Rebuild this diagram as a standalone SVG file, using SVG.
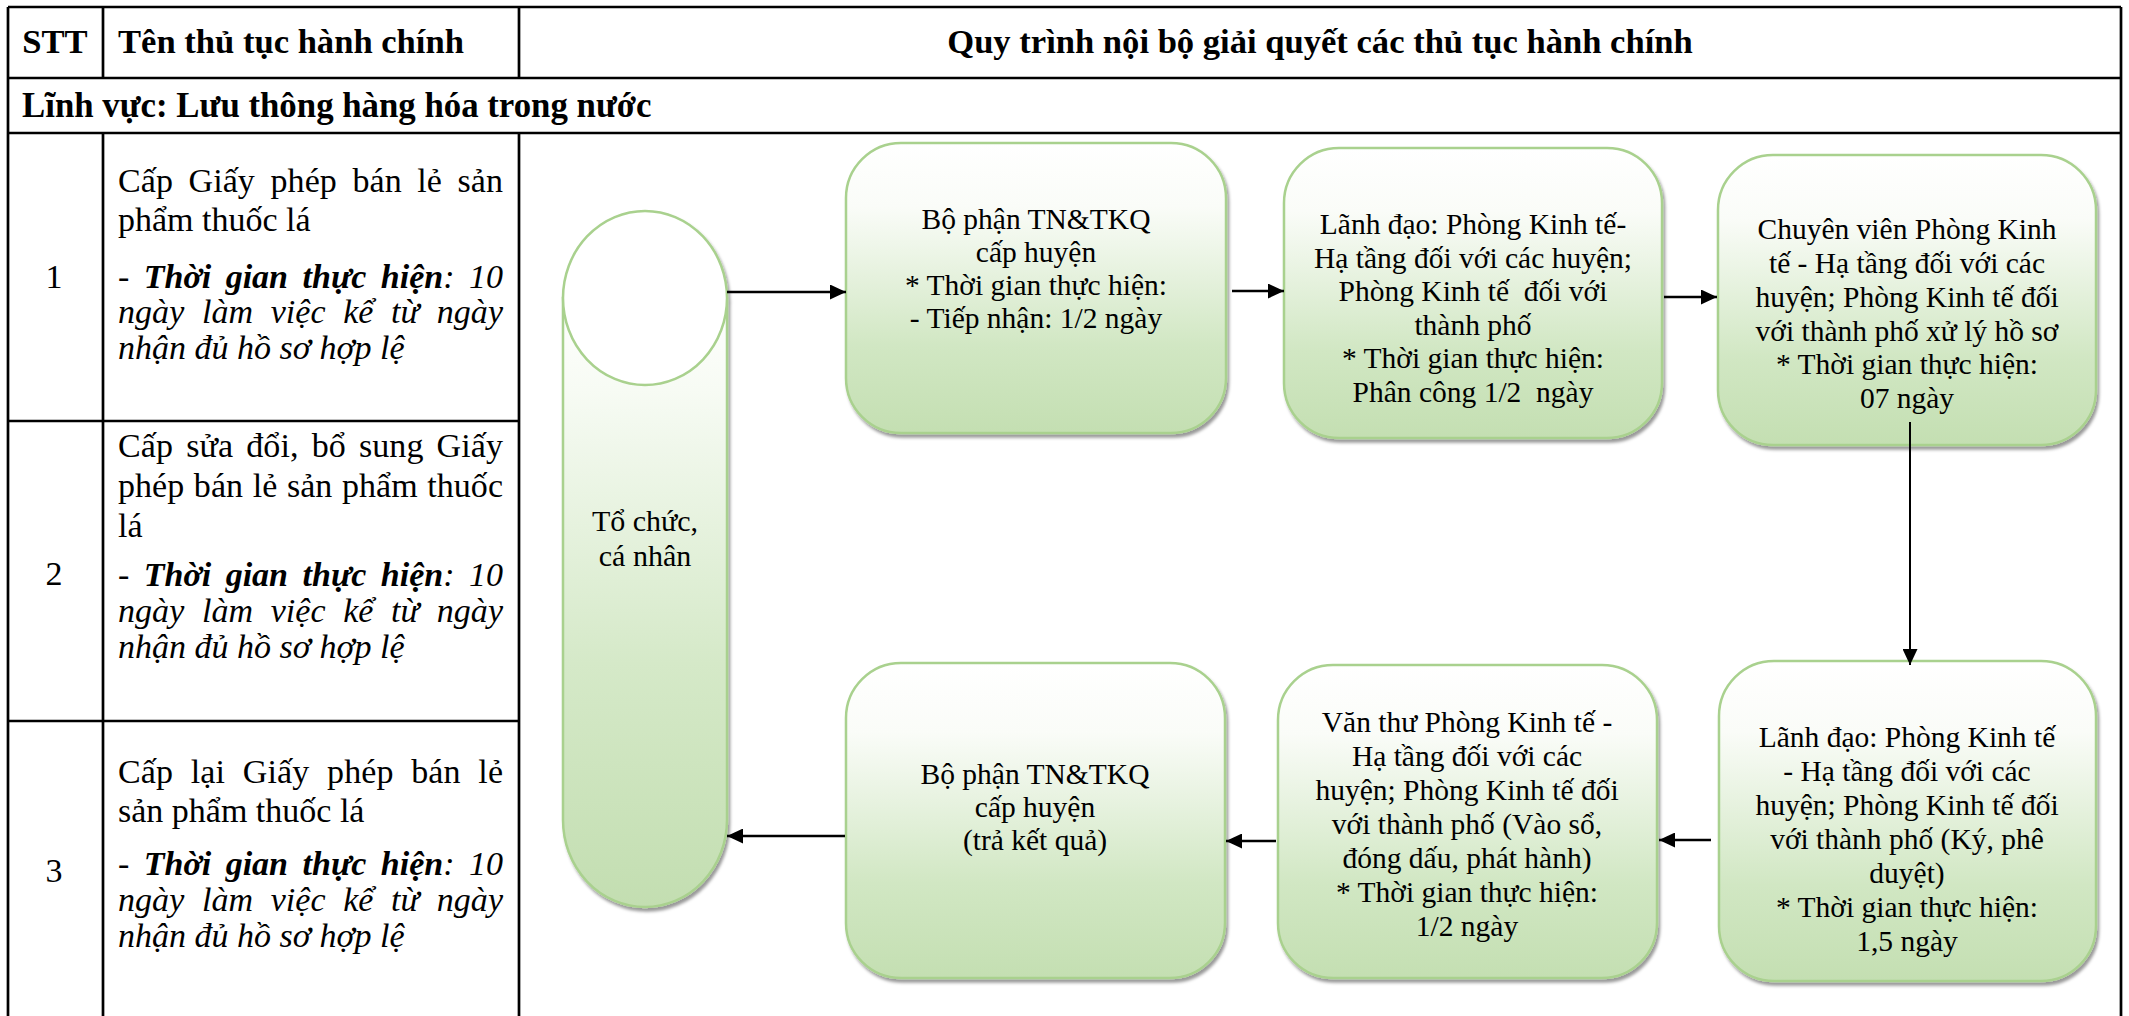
<svg xmlns="http://www.w3.org/2000/svg" width="2129" height="1016" viewBox="0 0 2129 1016">
<style>
.t{font-family:"Liberation Serif","Times New Roman",serif;fill:#000}
.hb{font-size:34.6px;font-weight:bold}
.r{font-size:34px}
.i{font-style:italic}
.bi{font-weight:bold;font-style:italic}
.num{font-size:34px;text-anchor:middle}
.bx{font-size:29.5px;text-anchor:middle}
.pre{white-space:pre}
.grid{stroke:#000;stroke-width:2.7;fill:none}
.box{fill:url(#gBox);stroke:#a9d18e;stroke-width:2.5}
.con{stroke:#000;stroke-width:2.5;fill:none;marker-end:url(#arr)}
</style>
<defs>
<linearGradient id="gBox" x1="0" y1="0" x2="0" y2="1">
<stop offset="0" stop-color="#ffffff"/>
<stop offset="0.22" stop-color="#fafcf8"/>
<stop offset="0.7" stop-color="#d1e7c3"/>
<stop offset="1" stop-color="#c4dfb2"/>
</linearGradient>
<linearGradient id="gCyl" x1="0" y1="0" x2="0" y2="1">
<stop offset="0" stop-color="#ffffff"/>
<stop offset="0.15" stop-color="#f7fbf4"/>
<stop offset="0.6" stop-color="#d5e9c8"/>
<stop offset="1" stop-color="#c3deb1"/>
</linearGradient>
<filter id="sh" x="-5%" y="-5%" width="115%" height="115%">
<feDropShadow dx="2" dy="3.5" stdDeviation="1.5" flood-color="#000" flood-opacity="0.4"/>
</filter>
<marker id="arr" markerUnits="userSpaceOnUse" markerWidth="16" markerHeight="15" refX="16" refY="7.5" orient="auto">
<path d="M0,0 L16,7.5 L0,15 Z" fill="#000"/>
</marker>
</defs>
<rect width="2129" height="1016" fill="#fff"/>

<g id="table">
<path class="grid" d="M8,7 H2121 M8,78 H2121 M8,133 H2121 M8,7 V1016 M2121,7 V1016 M103,7 V78 M519,7 V78 M103,133 V1016 M519,133 V1016 M8,421 H519 M8,721 H519"/>
<text class="t hb" x="55" y="53" text-anchor="middle">STT</text>
<text class="t hb" x="118" y="53">Tên thủ tục hành chính</text>
<text class="t hb" x="1320" y="53" text-anchor="middle">Quy trình nội bộ giải quyết các thủ tục hành chính</text>
<text class="t hb" x="22" y="117" style="font-size:34.8px">Lĩnh vực: Lưu thông hàng hóa trong nước</text>
</g>

<g id="row1">
<text class="t num" x="54" y="288">1</text>
<text class="t r" x="118" y="192" textLength="385" lengthAdjust="spacing" style="word-spacing:7px">Cấp Giấy phép bán lẻ sản</text>
<text class="t r" x="118" y="231">phẩm thuốc lá</text>
<text class="t r i" x="118" y="288" textLength="385" lengthAdjust="spacing" style="word-spacing:6px">- <tspan class="bi">Thời gian thực hiện</tspan>: 10</text>
<text class="t r i" x="118" y="323" textLength="385" lengthAdjust="spacing" style="word-spacing:9px">ngày làm việc kể từ ngày</text>
<text class="t r i" x="118" y="359">nhận đủ hồ sơ hợp lệ</text>
</g>

<g id="row2">
<text class="t num" x="54" y="585">2</text>
<text class="t r" x="118" y="457" textLength="385" lengthAdjust="spacing" style="word-spacing:4.5px">Cấp sửa đổi, bổ sung Giấy</text>
<text class="t r" x="118" y="497" textLength="385" lengthAdjust="spacing" style="word-spacing:1px">phép bán lẻ sản phẩm thuốc</text>
<text class="t r" x="118" y="537">lá</text>
<text class="t r i" x="118" y="586" textLength="385" lengthAdjust="spacing" style="word-spacing:6px">- <tspan class="bi">Thời gian thực hiện</tspan>: 10</text>
<text class="t r i" x="118" y="622" textLength="385" lengthAdjust="spacing" style="word-spacing:9px">ngày làm việc kể từ ngày</text>
<text class="t r i" x="118" y="658">nhận đủ hồ sơ hợp lệ</text>
</g>

<g id="row3">
<text class="t num" x="54" y="882">3</text>
<text class="t r" x="118" y="783" textLength="385" lengthAdjust="spacing" style="word-spacing:9px">Cấp lại Giấy phép bán lẻ</text>
<text class="t r" x="118" y="822">sản phẩm thuốc lá</text>
<text class="t r i" x="118" y="875" textLength="385" lengthAdjust="spacing" style="word-spacing:6px">- <tspan class="bi">Thời gian thực hiện</tspan>: 10</text>
<text class="t r i" x="118" y="911" textLength="385" lengthAdjust="spacing" style="word-spacing:9px">ngày làm việc kể từ ngày</text>
<text class="t r i" x="118" y="947">nhận đủ hồ sơ hợp lệ</text>
</g>

<g id="to-chuc-ca-nhan">
<g filter="url(#sh)">
<path d="M563,298 V820 A82,87 0 0 0 727,820 V298 Z" fill="url(#gCyl)" stroke="#a9d18e" stroke-width="2.5"/>
<ellipse cx="645" cy="298" rx="82" ry="87" fill="#ffffff" stroke="#a9d18e" stroke-width="2.5"/>
</g>
<text class="t bx" style="font-size:30px" x="645" y="531">Tổ chức,</text>
<text class="t bx" style="font-size:30px" x="645" y="566">cá nhân</text>
</g>

<g id="b1">
<rect class="box" x="846" y="143" width="380" height="290" rx="55" ry="55" filter="url(#sh)"/>
<text class="t bx" x="1036" y="229">Bộ phận TN&amp;TKQ</text>
<text class="t bx" x="1036" y="262">cấp huyện</text>
<text class="t bx" x="1036" y="295">* Thời gian thực hiện:</text>
<text class="t bx" x="1036" y="328">- Tiếp nhận: 1/2 ngày</text>
</g>

<g id="b2">
<rect class="box" x="1284" y="148" width="378" height="290" rx="55" ry="55" filter="url(#sh)"/>
<text class="t bx" x="1473" y="234">Lãnh đạo: Phòng Kinh tế-</text>
<text class="t bx" x="1473" y="267.5">Hạ tầng đối với các huyện;</text>
<text class="t bx pre" x="1473" y="301">Phòng Kinh tế  đối với</text>
<text class="t bx" x="1473" y="334.5">thành phố</text>
<text class="t bx" x="1473" y="368">* Thời gian thực hiện:</text>
<text class="t bx pre" x="1473" y="401.5">Phân công 1/2  ngày</text>
</g>

<g id="b3">
<rect class="box" x="1718" y="155" width="378" height="290" rx="55" ry="55" filter="url(#sh)"/>
<text class="t bx" x="1907" y="239">Chuyên viên Phòng Kinh</text>
<text class="t bx" x="1907" y="273">tế - Hạ tầng đối với các</text>
<text class="t bx" x="1907" y="307">huyện; Phòng Kinh tế đối</text>
<text class="t bx" x="1907" y="341">với thành phố xử lý hồ sơ</text>
<text class="t bx" x="1907" y="374">* Thời gian thực hiện:</text>
<text class="t bx" x="1907" y="408">07 ngày</text>
</g>

<g id="b4">
<rect class="box" x="1719" y="661" width="377" height="320" rx="55" ry="55" filter="url(#sh)"/>
<text class="t bx" x="1907" y="747">Lãnh đạo: Phòng Kinh tế</text>
<text class="t bx" x="1907" y="781">- Hạ tầng đối với các</text>
<text class="t bx" x="1907" y="815">huyện; Phòng Kinh tế đối</text>
<text class="t bx" x="1907" y="849">với thành phố (Ký, phê</text>
<text class="t bx" x="1907" y="883">duyệt)</text>
<text class="t bx" x="1907" y="917">* Thời gian thực hiện:</text>
<text class="t bx" x="1907" y="951">1,5 ngày</text>
</g>

<g id="b5">
<rect class="box" x="1278" y="665" width="379" height="313" rx="55" ry="55" filter="url(#sh)"/>
<text class="t bx" x="1467" y="732">Văn thư Phòng Kinh tế -</text>
<text class="t bx" x="1467" y="766">Hạ tầng đối với các</text>
<text class="t bx" x="1467" y="800">huyện; Phòng Kinh tế đối</text>
<text class="t bx" x="1467" y="834">với thành phố (Vào sổ,</text>
<text class="t bx" x="1467" y="868">đóng dấu, phát hành)</text>
<text class="t bx" x="1467" y="902">* Thời gian thực hiện:</text>
<text class="t bx" x="1467" y="936">1/2 ngày</text>
</g>

<g id="b6">
<rect class="box" x="846" y="663" width="379" height="315" rx="55" ry="55" filter="url(#sh)"/>
<text class="t bx" x="1035" y="784">Bộ phận TN&amp;TKQ</text>
<text class="t bx" x="1035" y="817">cấp huyện</text>
<text class="t bx" x="1035" y="850">(trả kết quả)</text>
</g>

<g id="connectors">
<path class="con" d="M727,292 H846"/>
<path class="con" d="M1232,291 H1284"/>
<path class="con" d="M1664,297 H1717"/>
<path class="con" d="M1910,422 V665" style="stroke-width:2"/>
<path class="con" d="M1711,840 H1659"/>
<path class="con" d="M1276,841 H1226"/>
<path class="con" d="M845,836 H727"/>
</g>
</svg>
